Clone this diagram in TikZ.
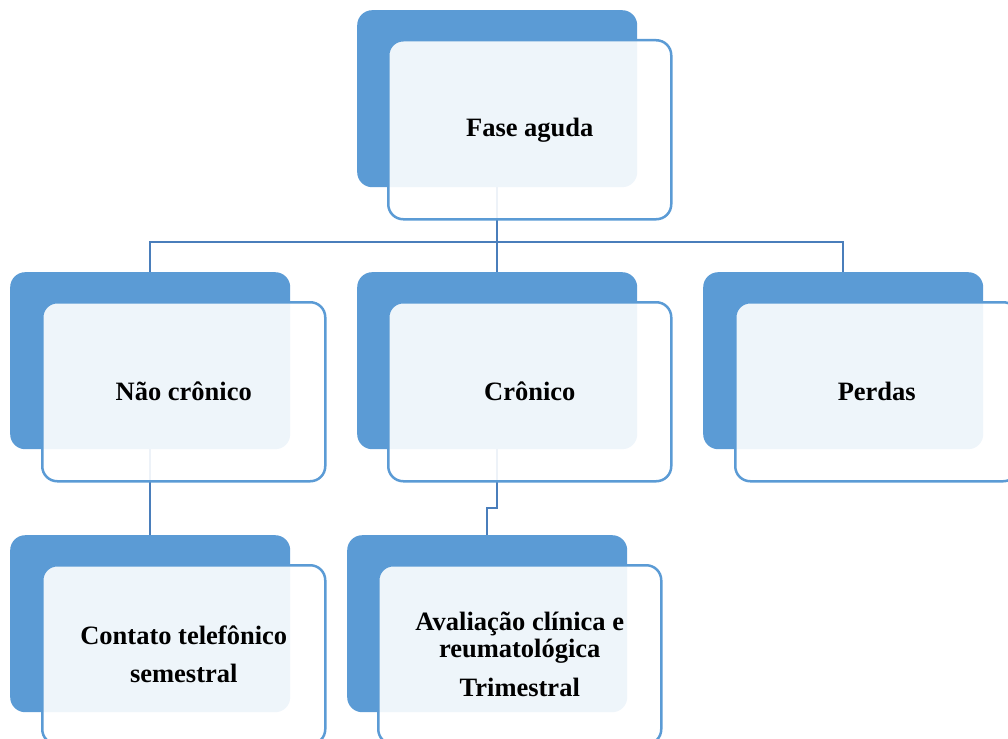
\documentclass[tikz,border=0pt]{standalone}
\usepackage{fontspec}
\setmainfont{Liberation Serif}
\usetikzlibrary{backgrounds}
\definecolor{boxblue}{HTML}{5B9BD5}
\definecolor{linkblue}{HTML}{4A7EBB}
\begin{document}
\begin{tikzpicture}[x=1pt, y=-1pt,
  backbox/.style={fill=boxblue, rounded corners=15pt, minimum width=280pt,
    minimum height=177pt, inner sep=0pt, anchor=north west},
  frontbox/.style={draw=boxblue, line width=2.5pt, fill=white, fill opacity=0.9,
    text opacity=1, rounded corners=15pt, minimum width=283pt,
    minimum height=179pt, inner sep=0pt, anchor=north west, align=center,
    font=\bfseries\fontsize{26.5}{38}\selectfont},
  link/.style={draw=linkblue, line width=2.5pt}]
  \useasboundingbox (0,0) rectangle (1008,738);
  \clip (0,0) rectangle (1008,738);

  % back panels
  \node[backbox] (fb) at (357,10) {};
  \node[backbox] (nb) at (10,272) {};
  \node[backbox] (cb) at (357,272) {};
  \node[backbox] (pb) at (703,272) {};
  \node[backbox] (tb) at (10,535) {};
  \node[backbox] (ab) at (347,535) {};

  % front panels with labels
  \node[frontbox] (ff) at (387,39) {\raisebox{-2.5pt}{Fase aguda}};
  \node[frontbox] (nf) at (41,301) {Não crônico};
  \node[frontbox] (cf) at (387,301) {Crônico};
  \node[frontbox] (pf) at (734,301) {Perdas};
  \node[frontbox] (tf) at (41,564) {Contato telefônico\\semestral};
  \node[frontbox] (af) at (377,564) {Avaliação clínica e\\[-11pt]reumatológica\\[1pt]Trimestral};

  % connectors, kept underneath the translucent panels
  \coordinate (bus) at (0,242);
  \coordinate (step) at (0,508);
  \begin{pgfonlayer}{background}
    \draw[link] (fb.south) -- (fb.south |- bus);
    \draw[link] (nb.north) |- (pb.north |- bus) -- (pb.north);
    \draw[link] (cb.north) -- (cb.north |- bus);
    \draw[link] (nb.south) -- (tb.north);
    \draw[link] (cb.south) -- (cb.south |- step) -| (ab.north);
  \end{pgfonlayer}
\end{tikzpicture}
\end{document}
